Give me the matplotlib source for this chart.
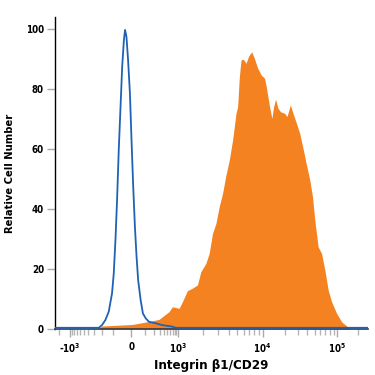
import numpy as np
import matplotlib.pyplot as plt

# isotype control (blue outline)
ctrl_x = [-2700, -233, -196, -162, -133, -108, -96, -85, -75, -65,
          -55, -46, -37, -31, -24, -16, -7, 1, 12, 23,
          34, 45, 63, 81, 105, 138, 227, 357, 690, 862, 280000]
ctrl_y = [0.4, 0.4, 1.3, 3.0, 5.8, 11.9, 18.6, 29.7, 43.0, 59.7,
          74.0, 87.4, 96.3, 99.7, 97.4, 89.7, 78.6, 63.0, 47.4, 34.1,
          24.1, 16.3, 9.7, 5.2, 3.6, 2.4, 1.9, 1.3, 0.8, 0.4, 0.4]

# Integrin b1 stained (orange fill)
stain_x = [-250, -196, 5, 138, 286, 557, 690, 1028, 1125, 1290,
           1479, 1696, 1862, 2135, 2337, 2558, 2808, 3073, 3364, 3692,
           4041, 4423, 4855, 5073, 5315, 5567, 5930, 6383, 6853, 7441,
           8012, 8770, 9625, 10642, 11220, 12433, 13355, 14086, 14988, 16098,
           17510, 19830, 21300, 23670, 25680, 28540, 31620, 35050, 38960, 43170,
           46950, 50440, 55880, 62120, 68830, 76270, 84800, 99080, 116900, 138100,
           154200]
stain_y = [0, 1.0, 1.5, 2.5, 3.2, 5.8, 7.4, 6.9, 9.1, 12.8,
           13.6, 14.7, 19.1, 21.9, 25.2, 31.9, 35.2, 40.8, 45.2, 51.3,
           56.3, 63.0, 71.9, 74.0, 84.0, 89.7, 89.9, 88.6, 91.0, 92.4,
           90.2, 86.9, 84.7, 83.6, 80.8, 74.1, 70.2, 74.1, 76.6, 73.6,
           72.4, 71.9, 70.8, 74.7, 71.9, 68.6, 65.2, 60.2, 54.7, 49.7,
           44.1, 36.3, 27.4, 25.2, 19.7, 13.0, 9.1, 5.2, 2.4, 1.0,
           0.2]

major_ticks = [-1000, 0, 1000, 10000, 100000]
major_labels = ['-10$^3$', '0', '10$^3$', '10$^4$', '10$^5$']
y_ticks = [0, 20, 40, 60, 80, 100]

# biexponential-like display axis (asinh space, piecewise)
V = np.arcsinh(np.array([-3000, -1000, 0, 1000, 1e4, 1e5, 3e5]) / 100)
P = np.array([55, 71, 132.5, 179, 263, 337, 370.0])
V = np.concatenate([[V[0] - 50], V, [V[-1] + 50]])
P = np.concatenate([[P[0] - 50 * (P[1] - P[0]) / (V[2] - V[1])], P,
                    [P[-1] + 50 * (P[-1] - P[-2]) / (V[-2] - V[-3])]])


def forward(x):
    return np.interp(np.arcsinh(np.asarray(x, dtype=float) / 100), V, P)


def inverse(p):
    return 100 * np.sinh(np.interp(np.asarray(p, dtype=float), P, V))


plt.rcParams['mathtext.default'] = 'regular'
fig = plt.figure(figsize=(3.75, 3.75), dpi=100)
ax = fig.add_axes([55 / 375, 46 / 375, 313 / 375, 312 / 375])
ax.set_xscale('function', functions=(forward, inverse))

ax.fill_between(stain_x, stain_y, 0, color='#F58220', lw=0, zorder=2)
ax.plot(ctrl_x, ctrl_y, color='#1F62B4', lw=1.3, zorder=3)

ax.set_xlim(-2700, 280000)
ax.set_ylim(0, 104)

minor = []
for d in [100, 1000, 10000]:
    minor += [m * d for m in range(2, 10)]
minor += [-m * 100 for m in range(1, 10)] + [100, -2000, 200000]
ax.set_xticks(major_ticks)
ax.set_xticklabels(major_labels)
ax.set_xticks(minor, minor=True)
ax.set_yticks(y_ticks)

for s in ['top', 'right']:
    ax.spines[s].set_visible(False)
ax.spines['left'].set_linewidth(1.0)
ax.spines['bottom'].set_linewidth(1.2)
ax.spines['bottom'].set_color('#333b48')

ax.tick_params(axis='x', which='major', length=6, width=1, color='#aaaaaa',
               labelsize=7, pad=3)
ax.tick_params(axis='x', which='minor', length=4, width=1, color='#b5b5b5')
ax.tick_params(axis='y', length=6, width=1, color='#aaaaaa', labelsize=7, pad=2)

for lab in ax.get_xticklabels() + ax.get_yticklabels():
    lab.set_fontstretch('condensed')
    lab.set_fontweight('semibold')

ax.set_xlabel('Integrin β1/CD29', fontsize=9.5, fontweight='bold',
              fontstretch='condensed', labelpad=3)
ax.set_ylabel('Relative Cell Number', fontsize=8, fontweight='bold',
              fontstretch='condensed', labelpad=8)

fig.savefig('out.png', dpi=100)
